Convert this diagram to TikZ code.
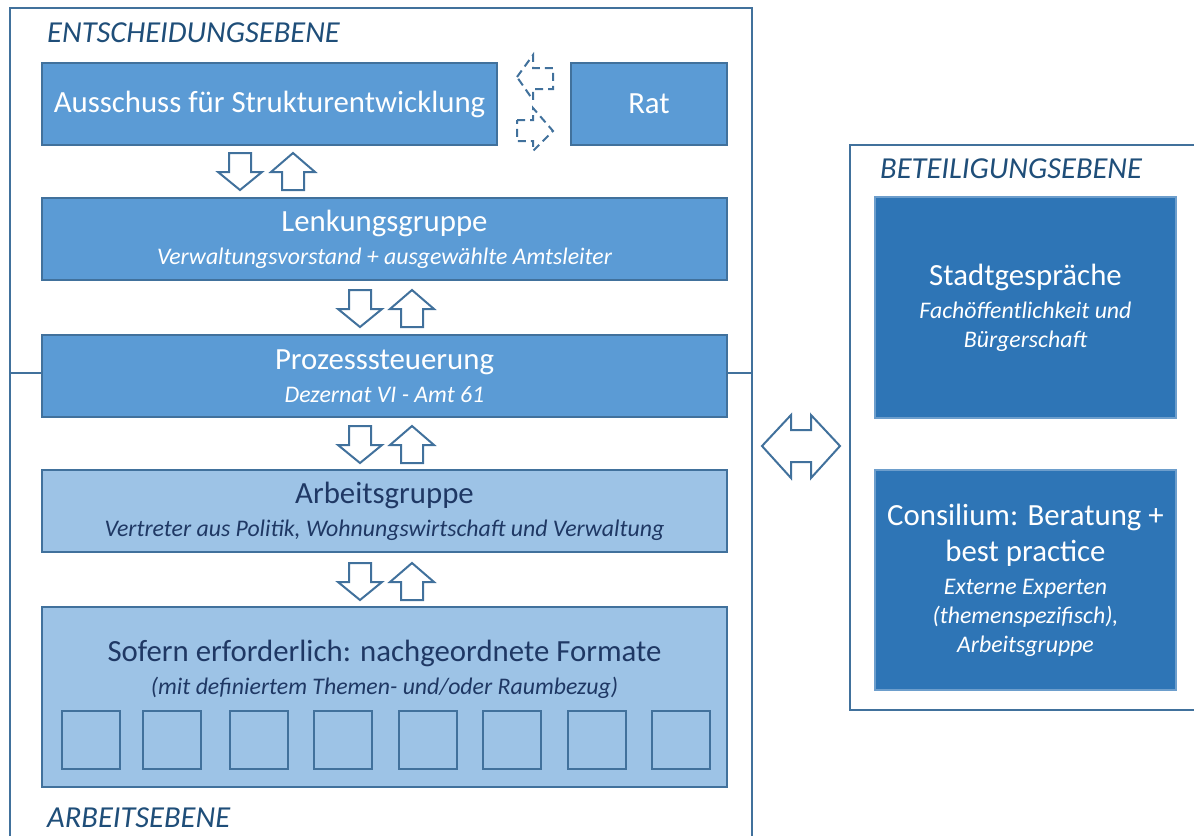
\documentclass[tikz,border=0pt]{standalone}
\usepackage{fontspec}
\setmainfont{Carlito}
\usetikzlibrary{calc,positioning}
\definecolor{midblue}{HTML}{5B9BD5}
\definecolor{lightblue}{HTML}{9DC3E6}
\definecolor{darkblue}{HTML}{2E75B6}
\definecolor{linecol}{HTML}{41719C}
\definecolor{headcol}{HTML}{1F4E79}
\definecolor{darktext}{HTML}{1F3864}
\newcommand{\titlef}{\fontsize{30.8}{29}\selectfont\upshape}
\newcommand{\subf}{\fontsize{23.8}{29}\selectfont\itshape}
\newcommand{\levelf}{\fontsize{30.5}{30}\selectfont\itshape}
\tikzset{
  box/.style={line width=1.5pt, align=center, inner sep=0pt, font=\fontsize{23.8}{29}\selectfont},
  midbox/.style={box, draw=linecol, fill=midblue, text=white},
  lightbox/.style={box, draw=linecol, fill=lightblue, text=darktext},
  darkbox/.style={box, draw=darkblue!70!white, fill=darkblue, text=white},
  level/.style={text=headcol, anchor=west, inner sep=0pt, font=\levelf},
  frame/.style={draw=linecol, line width=1.8pt},
  blockarr/.style={draw=linecol, line width=2pt, fill=white, line join=miter},
  dasharr/.style={draw=linecol, line width=2pt, dash pattern=on 8pt off 5pt},
  downarr/.pic={\path[blockarr] (-11,-18) -- (11,-18) -- (11,1) -- (22,1) -- (0,19) -- (-22,1) -- (-11,1) -- cycle;},
  uparr/.pic={\path[blockarr] (0,-18) -- (22,1) -- (11,1) -- (11,19) -- (-11,19) -- (-11,1) -- (-22,1) -- cycle;}
}
\begin{document}
\begin{tikzpicture}[x=1pt,y=-1pt]
\useasboundingbox (0,0) rectangle (1194,836);
% frames
\draw[frame] (10,836) -- (10,8) -- (752,8) -- (752,836);
\draw[frame] (1194,145) -- (850,145) -- (850,710) -- (1194,710);
\coordinate (fl) at (10,373);
\coordinate (fr) at (752,373);
% level titles
\node[level] (entsch) at (47,33) {ENTSCHEIDUNGSEBENE};
\node[level] (arbeit) at (47,818) {ARBEITSEBENE};
\node[level] (beteil) at (880,169) {BETEILIGUNGSEBENE};
% left column
\node[midbox, minimum width=455pt, minimum height=82pt] (ausschuss) at (269.5,104) {\titlef Ausschuss für Strukturentwicklung};
\node[midbox, minimum width=156pt, minimum height=82pt] (rat) at (649,104) {\titlef Rat};
\node[midbox, minimum width=685pt, minimum height=82pt] (lenkung) at (384.5,239) {\titlef Lenkungsgruppe\\[4pt]\subf Verwaltungsvorstand + ausgewählte Amtsleiter};
\node[midbox, minimum width=685pt, minimum height=82pt] (prozess) at (384.5,376) {\titlef Prozesssteuerung\\[4pt]\subf Dezernat VI - Amt 61};
\node[lightbox, minimum width=685pt, minimum height=82pt] (arbeitsgr) at (384.5,511) {\titlef Arbeitsgruppe\\[4pt]\subf Vertreter aus Politik, Wohnungswirtschaft und Verwaltung};
\node[lightbox, minimum width=685pt, minimum height=180pt] (sofern) at (384.5,697) {};
\node[box, text=darktext] (sofernText) at (384.5,669) {\titlef Sofern erforderlich: nachgeordnete Formate\\[4pt]\subf (mit definiertem Themen- und/oder Raumbezug)};
\foreach \x [count=\i] in {62,143,230,314,399,483,568,652}
  \node[lightbox, minimum size=58pt] (format\i) at (\x+29,740) {};
\draw[frame] (fl) -- (fl -| prozess.west);
\draw[frame] (fr -| prozess.east) -- (fr);
% dashed arrows between Ausschuss and Rat
\draw[dasharr] (517,77) -- (533,55) -- (533,68) -- (553,68) -- (553,89) -- (533,89) -- (533,100) -- cycle;
\draw[dasharr] (517,120) -- (533,120) -- (533,108) -- (553,131) -- (533,151) -- (533,141) -- (517,141) -- cycle;
% block arrows
\pic at (240,171) {downarr};
\pic at (293,171) {uparr};
\pic at (360,308) {downarr};
\pic at (412,308) {uparr};
\pic at (360,444) {downarr};
\pic at (412,444) {uparr};
\pic at (360,581) {downarr};
\pic at (412,581) {uparr};
% right column
\node[darkbox, minimum width=301pt, minimum height=221pt] (stadt) at (1025.5,307.5) {\titlef Stadtgespräche\\[4pt]\subf Fachöffentlichkeit und\\\subf Bürgerschaft};
\node[darkbox, minimum width=301pt, minimum height=220pt] (consil) at (1025.5,580) {\titlef Consilium: Beratung +\\[7pt]\titlef best practice\\[4pt]\subf Externe Experten\\\subf (themenspezifisch),\\\subf Arbeitsgruppe};
% double arrow
\path[blockarr] (762,446) -- (791,415) -- (791,430) -- (811,430) -- (811,415) -- (840,446) -- (811,478) -- (811,462) -- (791,462) -- (791,478) -- cycle;
\end{tikzpicture}
\end{document}
